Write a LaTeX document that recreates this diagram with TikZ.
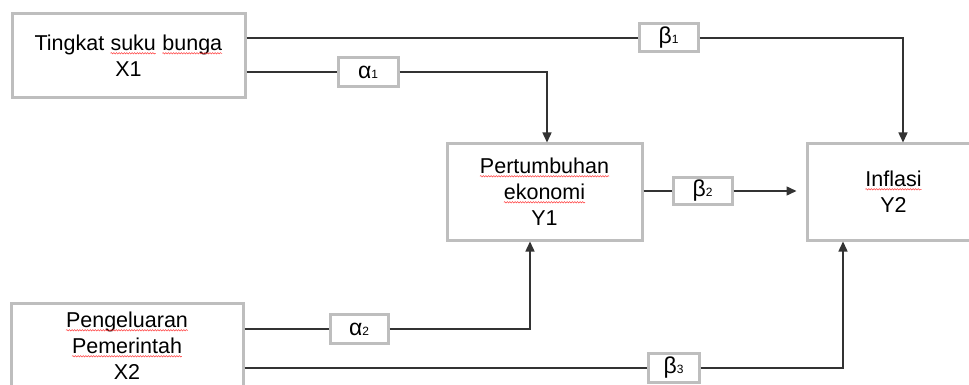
\documentclass[tikz,border=0pt]{standalone}
\usepackage{fontspec}
\setmainfont{Liberation Sans}
\usetikzlibrary{arrows.meta,calc,decorations.pathmorphing}
\definecolor{boxgray}{HTML}{BEBEBE}
\definecolor{linegray}{HTML}{333333}
\newcommand\spw[1]{\tikz[baseline=(w.base)]{\node[draw=none,fill=none,inner sep=0pt,outer sep=0pt,
    minimum width=0pt,minimum height=0pt,align=left,line width=0.5pt] (w) {#1};
  \draw[draw=red!75, line width=0.5pt, decorate, decoration={snake,amplitude=0.7pt,segment length=2.6pt}]
    ([yshift=-2.5pt]w.base west) -- ([yshift=-2.5pt]w.base east);}}
\newcommand\sub[1]{{\fontsize{12}{12}\selectfont #1}}
\tikzset{
  mainbox/.style={draw=boxgray, line width=3pt, fill=white, align=center,
    font=\fontsize{21.5}{26}\selectfont, inner sep=0pt},
  coefbox/.style={draw=boxgray, line width=3pt, fill=white, inner sep=0pt,
    font=\fontsize{23}{23}\selectfont},
  link/.style={draw=linegray, line width=1.4pt},
  arr/.style={link, -{Triangle[length=10pt,width=9pt]}}
}
\begin{document}
\begin{tikzpicture}[x=1pt,y=-1pt]
\useasboundingbox (0,0) rectangle (969,385);
% main boxes
\node[mainbox, minimum width=233pt, minimum height=84pt] (X1) at (128.5,56) {Tingkat \spw{suku} \spw{bunga}\\X1};
\node[mainbox, minimum width=195pt, minimum height=96pt] (Y1) at (544.5,192) {\spw{Pertumbuhan}\\\spw{ekonomi}\\Y1};
\node[mainbox, minimum width=173pt, minimum height=96pt] (Y2) at (893.5,192) {\spw{Inflasi}\\Y2};
\node[mainbox, minimum width=232pt, minimum height=86pt] (X2) at (127,346) {\spw{Pengeluaran}\\\spw{Pemerintah}\\X2};
% coefficient boxes
\node[coefbox, minimum width=59pt, minimum height=28pt] (b1) at (668.5,38) {β\sub{1}};
\node[coefbox, minimum width=60pt, minimum height=29pt] (a1) at (368,72) {α\sub{1}};
\node[coefbox, minimum width=59pt, minimum height=27pt] (b2) at (702.5,191) {β\sub{2}};
\node[coefbox, minimum width=58pt, minimum height=29pt] (a2) at (359,329) {α\sub{2}};
\node[coefbox, minimum width=51pt, minimum height=29pt] (b3) at (673.5,368) {β\sub{3}};
% bend columns
\coordinate (c1) at (903,0);
\coordinate (c2) at (547,0);
\coordinate (c4) at (530,0);
\coordinate (c5) at (843,0);
% connectors
\draw[link] (X1.east |- b1) -- (b1.west);
\draw[arr] (b1.east) -| (Y2.north -| c1);
\draw[link] (X1.east |- a1) -- (a1.west);
\draw[arr] (a1.east) -| (Y1.north -| c2);
\draw[link] (Y1.east |- b2) -- (b2.west);
\draw[arr, shorten >=9pt] (b2.east) -- (Y2.west |- b2);
\draw[link] (X2.east |- a2) -- (a2.west);
\draw[arr] (a2.east) -| (Y1.south -| c4);
\draw[link] (X2.east |- b3) -- (b3.west);
\draw[arr] (b3.east) -| (Y2.south -| c5);
\end{tikzpicture}
\end{document}
